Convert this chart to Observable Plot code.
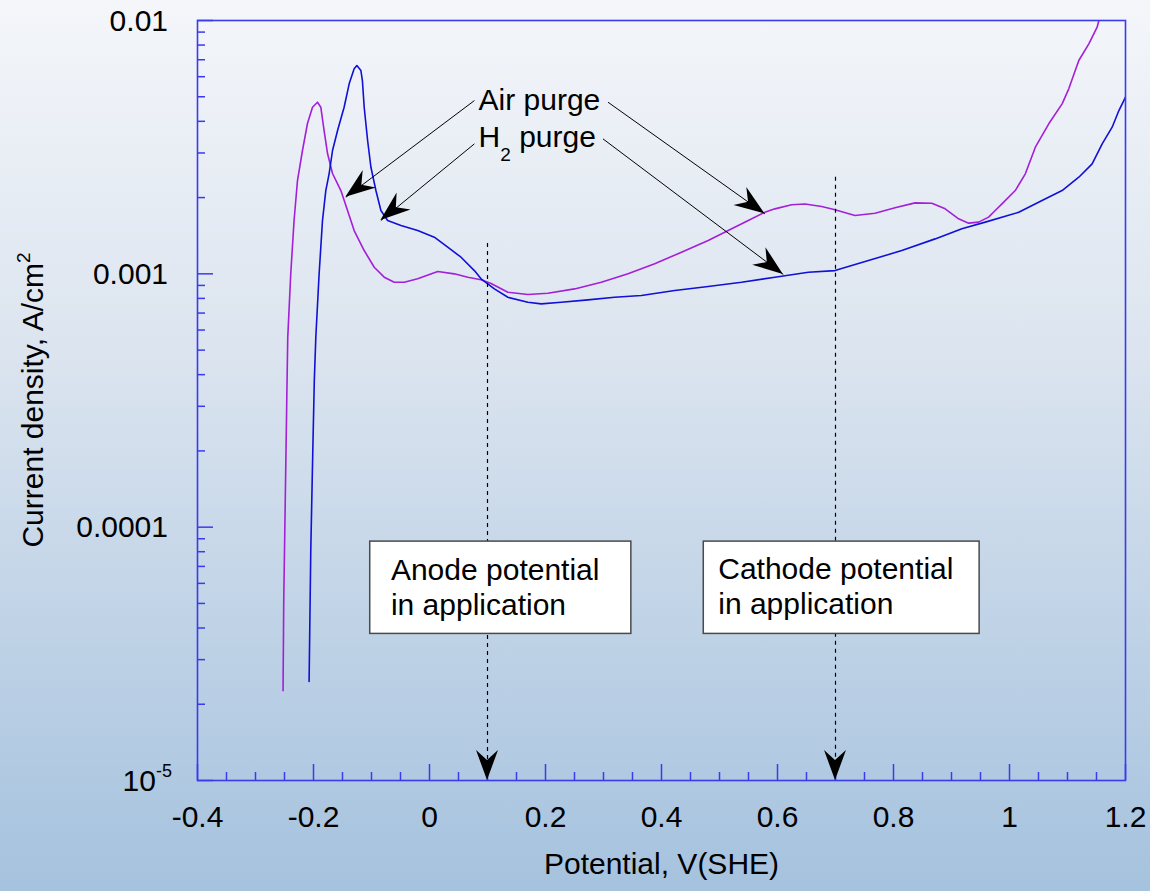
<!DOCTYPE html>
<html>
<head>
<meta charset="utf-8">
<script src="https://cdn.jsdelivr.net/npm/d3@7"></script>
<script src="https://cdn.jsdelivr.net/npm/@observablehq/plot@0.6"></script>
<style>
  html, body { margin: 0; padding: 0; }
  body {
    width: 1150px; height: 891px; overflow: hidden;
    background: linear-gradient(to bottom, #f4f6fa 0%, #dbe4ef 40%, #a5c2de 100%);
    font-family: "Liberation Sans", Arial, sans-serif;
  }
</style>
</head>
<body>
<div id="chart"></div>
<script>
// ---- Data ----
// Air purge (purple)
const airX = [-0.2525,-0.2513,-0.2487,-0.2461,-0.2444,-0.2392,-0.2335,-0.2276,-0.2190,-0.2104,-0.2017,-0.1931,-0.1874,-0.1817,-0.1758,-0.1672,-0.1528,-0.1413,-0.1299,-0.1126,-0.0953,-0.0781,-0.0608,-0.0435,-0.0204,0.0142,0.0428,0.0660,0.0889,0.1062,0.1351,0.1696,0.2041,0.2501,0.2962,0.3423,0.3883,0.4344,0.4805,0.5150,0.5496,0.5782,0.5955,0.6244,0.6473,0.6762,0.6991,0.7336,0.7682,0.8027,0.8373,0.8661,0.8891,0.9122,0.9295,0.9468,0.9640,0.9754,0.9870,1.0100,1.0273,1.0446,1.0677,1.0907,1.1022,1.1195,1.1368,1.1511,1.1541];
const airY = [2.26e-5,5.13e-5,1.27e-4,3.16e-4,5.60e-4,1.003e-3,1.623e-3,2.335e-3,3.068e-3,3.921e-3,4.546e-3,4.758e-3,4.546e-3,3.678e-3,2.985e-3,2.489e-3,2.132e-3,1.778e-3,1.482e-3,1.236e-3,1.062e-3,9.70e-4,9.26e-4,9.26e-4,9.56e-4,1.021e-3,1.0e-3,9.70e-4,9.47e-4,9.16e-4,8.46e-4,8.29e-4,8.38e-4,8.72e-4,9.26e-4,1.0e-3,1.095e-3,1.217e-3,1.353e-3,1.482e-3,1.623e-3,1.750e-3,1.805e-3,1.874e-3,1.886e-3,1.843e-3,1.789e-3,1.699e-3,1.735e-3,1.822e-3,1.906e-3,1.899e-3,1.805e-3,1.649e-3,1.585e-3,1.600e-3,1.674e-3,1.778e-3,1.889e-3,2.132e-3,2.482e-3,3.161e-3,3.910e-3,4.689e-3,5.375e-3,6.952e-3,8.09e-3,9.41e-3,1.0e-2];
// H2 purge (blue)
const h2X = [-0.2076,-0.2047,-0.2012,-0.1986,-0.1960,-0.1903,-0.1845,-0.1788,-0.1731,-0.1672,-0.1585,-0.1472,-0.1385,-0.1299,-0.1252,-0.1183,-0.1157,-0.1126,-0.1067,-0.1010,-0.0924,-0.0838,-0.0722,-0.0492,-0.0204,0.0083,0.0314,0.0544,0.0774,0.0889,0.1119,0.1351,0.1696,0.1926,0.2271,0.2732,0.3192,0.3653,0.4228,0.4805,0.5380,0.5955,0.6532,0.6991,0.7568,0.8143,0.8718,0.9179,0.9582,1.0159,1.0561,1.0907,1.1195,1.1425,1.1598,1.1770,1.1886,1.2000];
const h2Y = [2.46e-5,8.08e-5,2.007e-4,3.792e-4,5.62e-4,1.0e-3,1.623e-3,2.132e-3,2.482e-3,3.068e-3,3.678e-3,4.546e-3,5.625e-3,6.447e-3,6.643e-3,6.348e-3,5.795e-3,4.546e-3,3.359e-3,2.635e-3,2.132e-3,1.778e-3,1.623e-3,1.551e-3,1.482e-3,1.395e-3,1.274e-3,1.163e-3,1.030e-3,9.56e-4,8.72e-4,8.08e-4,7.72e-4,7.61e-4,7.72e-4,7.89e-4,8.08e-4,8.21e-4,8.59e-4,8.91e-4,9.26e-4,9.70e-4,1.015e-3,1.030e-3,1.128e-3,1.236e-3,1.374e-3,1.506e-3,1.600e-3,1.750e-3,1.948e-3,2.132e-3,2.407e-3,2.718e-3,3.259e-3,3.792e-3,4.412e-3,4.98e-3];

// Axis ticks and labels
const xMajor = [-0.4,-0.2,0,0.2,0.4,0.6,0.8,1,1.2];
const xTickLabels = ["-0.4","-0.2","0","0.2","0.4","0.6","0.8","1","1.2"];
const xMinor = [-0.35,-0.3,-0.25,-0.15,-0.1,-0.05,0.05,0.1,0.15,0.25,0.3,0.35,0.45,0.5,0.55,0.65,0.7,0.75,0.85,0.9,0.95,1.05,1.1,1.15];
const yMajor = [1e-5,1e-4,1e-3,1e-2];
const yTickLabels = ["10", "0.0001", "0.001", "0.01"];
const yMinor = [2e-5,3e-5,4e-5,5e-5,6e-5,7e-5,8e-5,9e-5,2e-4,3e-4,4e-4,5e-4,6e-4,7e-4,8e-4,9e-4,2e-3,3e-3,4e-3,5e-3,6e-3,7e-3,8e-3,9e-3];

// Annotation content
const appLineX = [0.1, 0.7];
const appLineTop = [1.317e-3, 2.407e-3];
const boxX1 = [-0.1022, 0.4729];
const boxX2 = [0.348, 0.9485];
const boxY1 = [3.79e-5, 3.79e-5];
const boxY2 = [8.77e-5, 8.77e-5];
const boxTextX = [-0.0665, 0.4978];
const boxTextY = [5.85e-5, 5.9e-5];
const boxTexts = ["Anode potential\nin application", "Cathode potential\nin application"];
// arrows: from label to curve
const arrowX1 = [0.0774, 0.0774, 0.3078, 0.2991];
const arrowY1 = [4.83e-3, 3.259e-3, 4.758e-3, 3.41e-3];
const arrowX2 = [-0.1442, -0.0838, 0.5782, 0.6100];
const arrowY2 = [2.006e-3, 1.623e-3, 1.725e-3, 9.94e-4];
const labelX = [0.0855, 0.0855];
const labelY = [4.875e-3, 3.48e-3];

// ---- Tables ----
const air = airX.map((x, i) => ({x, y: airY[i]}));
const h2 = h2X.map((x, i) => ({x, y: h2Y[i]}));
const xTicks = xMajor.map((v, i) => ({v, label: xTickLabels[i]}));
const appLines = appLineX.map((x, i) => ({x, top: appLineTop[i]}));
const boxes = boxX1.map((x1, i) => ({x1, x2: boxX2[i], y1: boxY1[i], y2: boxY2[i], tx: boxTextX[i], ty: boxTextY[i], text: boxTexts[i]}));
const arrows = arrowX1.map((x1, i) => ({x1, y1: arrowY1[i], x2: arrowX2[i], y2: arrowY2[i]}));

const FONT = "Liberation Sans, Arial, Helvetica, sans-serif";
const FRAME = "#3a3aee";
const W = 1150, H = 891;
const mL = 197, mR = 25, mT = 20, mB = 111;
const frameW = W - mL - mR, frameH = H - mT - mB;

function headPath(g, x, y, angDeg) {
  const L = 30, Wd = 11, N = 20;
  g.append("path")
    .attr("d", `M0,0L${-L},${-Wd}L${-N},0L${-L},${Wd}Z`)
    .attr("transform", `translate(${x},${y}) rotate(${angDeg})`)
    .attr("fill", "black");
}

function annotations(index, scales, values, dimensions) {
  const {x, y} = scales;
  const g = d3.create("svg:g").attr("font-family", FONT).attr("fill", "black").attr("text-anchor", "start");
  // arrowheads for label arrows
  for (const a of arrows) {
    const px1 = x(a.x1), py1 = y(a.y1), px2 = x(a.x2), py2 = y(a.y2);
    headPath(g, px2, py2, Math.atan2(py2 - py1, px2 - px1) * 180 / Math.PI);
  }
  // arrowheads at the bottom of application lines
  for (const l of appLines) headPath(g, x(l.x), y(1e-5), 90);
  // curve labels
  g.append("text").attr("x", x(labelX[0])).attr("y", y(labelY[0])).attr("dy", "0.36em")
    .attr("font-size", 30).attr("text-anchor", "start").text("Air purge");
  const t2 = g.append("text").attr("x", x(labelX[1])).attr("y", y(labelY[1])).attr("dy", "0.36em")
    .attr("font-size", 30).attr("text-anchor", "start");
  t2.append("tspan").text("H");
  t2.append("tspan").attr("font-size", 19).attr("dy", 14).text("2");
  t2.append("tspan").attr("dy", -14).text(" purge");
  // y tick labels
  const lx = dimensions.marginLeft - 29;
  yMajor.forEach((v, i) => {
    const t = g.append("text").attr("y", y(v)).attr("font-size", 30).attr("text-anchor", "end");
    if (i === 0) {
      t.attr("x", lx + 4).attr("dy", 11);
      t.append("tspan").text(yTickLabels[i]);
      t.append("tspan").attr("font-size", 18).attr("dy", -14).text("-5");
    } else {
      t.attr("x", lx).attr("dy", "0.35em").text(yTickLabels[i]);
    }
  });
  // y axis title
  const cy = (dimensions.marginTop + dimensions.height - dimensions.marginBottom) / 2;
  const yt = g.append("text")
    .attr("transform", `translate(${dimensions.marginLeft - 154},${cy}) rotate(-90)`)
    .attr("text-anchor", "middle").attr("font-size", 30);
  yt.append("tspan").text("Current density, A/cm");
  yt.append("tspan").attr("font-size", 19).attr("dy", -13).text("2");
  return g.node();
}

const plot = Plot.plot({
  width: W, height: H,
  marginLeft: mL, marginRight: mR, marginTop: mT, marginBottom: mB,
  style: {background: "transparent", fontFamily: FONT, color: "black", overflow: "visible"},
  x: {type: "linear", domain: [-0.4, 1.2], axis: null},
  y: {type: "log", domain: [1e-5, 1e-2], axis: null},
  marks: [
    Plot.line(air, {x: "x", y: "y", stroke: "#a31fd8", strokeWidth: 1.6, clip: true}),
    Plot.line(h2, {x: "x", y: "y", stroke: "#1010d6", strokeWidth: 1.6, clip: true}),
    Plot.ruleX(appLines, {x: "x", y1: "top", y2: 1e-5, stroke: "black", strokeWidth: 1.2, strokeDasharray: "4,4"}),
    Plot.rect(boxes, {x1: "x1", x2: "x2", y1: "y1", y2: "y2", fill: "white", stroke: "#4a4a4a", strokeWidth: 1.5}),
    Plot.text(boxes, {x: "tx", y: "ty", text: "text", textAnchor: "start", fontSize: 30, lineHeight: 1.17, fill: "black"}),
    Plot.link(arrows, {x1: "x1", y1: "y1", x2: "x2", y2: "y2", stroke: "black", strokeWidth: 1}),
    Plot.tickX(xMajor, {x: d => d, stroke: FRAME, strokeWidth: 1.5, insetTop: frameH - 16}),
    Plot.tickX(xMinor, {x: d => d, stroke: FRAME, strokeWidth: 1.5, insetTop: frameH - 8}),
    Plot.tickY(yMajor, {y: d => d, stroke: FRAME, strokeWidth: 1.5, insetRight: frameW - 16}),
    Plot.tickY(yMinor, {y: d => d, stroke: FRAME, strokeWidth: 1.5, insetRight: frameW - 8}),
    Plot.frame({stroke: FRAME, strokeWidth: 1.6}),
    Plot.text(xTicks, {x: "v", text: "label", frameAnchor: "bottom", dy: 46, fontSize: 30, fill: "black"}),
    Plot.text(["Potential, V(SHE)"], {frameAnchor: "bottom", dy: 93, fontSize: 30, fill: "black", text: d => d}),
    annotations
  ]
});
document.getElementById("chart").appendChild(plot);
</script>
</body>
</html>
